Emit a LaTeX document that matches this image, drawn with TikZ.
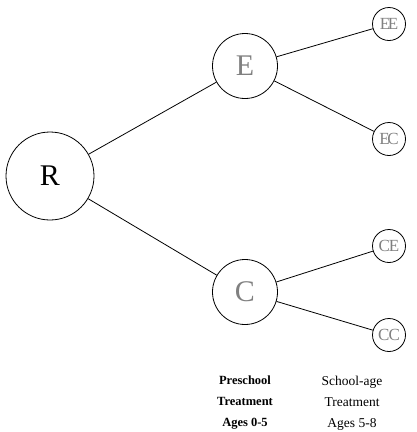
\documentclass[tikz,border=0pt]{standalone}
\usepackage{fontspec}
\setmainfont{Liberation Serif}
\begin{document}
\begin{tikzpicture}[x=1pt,y=-1pt,
  bigc/.style={draw,circle,line width=0.8pt,minimum size=88pt,inner sep=0pt,font=\fontsize{30}{30}\selectfont},
  midc/.style={draw,circle,line width=0.8pt,minimum size=65pt,inner sep=0pt,text=gray,font=\fontsize{30}{30}\selectfont},
  smc/.style={draw,circle,line width=0.8pt,minimum size=33pt,inner sep=0pt,text=gray,font=\fontsize{17}{17}\selectfont},
  lbl/.style={align=center,font=\fontsize{13.5}{21}\selectfont},
  edge/.style={line width=0.8pt}]
\useasboundingbox (0,0) rectangle (416,432);
\node[bigc] (R) at (50,176) {R};
\node[midc] (E) at (245,66) {E};
\node[midc] (C) at (245,292) {C};
\node[smc] (EE) at (389,24) {E\kern-2.5pt E};
\node[smc] (EC) at (389,139) {E\kern-2.5pt C};
\node[smc] (CE) at (389,246) {C\kern-1pt E};
\node[smc] (CC) at (389,335) {C\kern-1pt C};
\draw[edge] (R) -- (E);
\draw[edge] (R) -- (C);
\draw[edge] (E) -- (EE);
\draw[edge] (E) -- (EC);
\draw[edge] (C) -- (CE);
\draw[edge] (C) -- (CC);
\node[lbl,font=\bfseries\fontsize{12.5}{21}\selectfont] (P) at (245,403) {Preschool\\Treatment\\Ages 0-5};
\node[lbl] (S) at (352,403) {School-age\\Treatment\\Ages 5-8};
\end{tikzpicture}
\end{document}
